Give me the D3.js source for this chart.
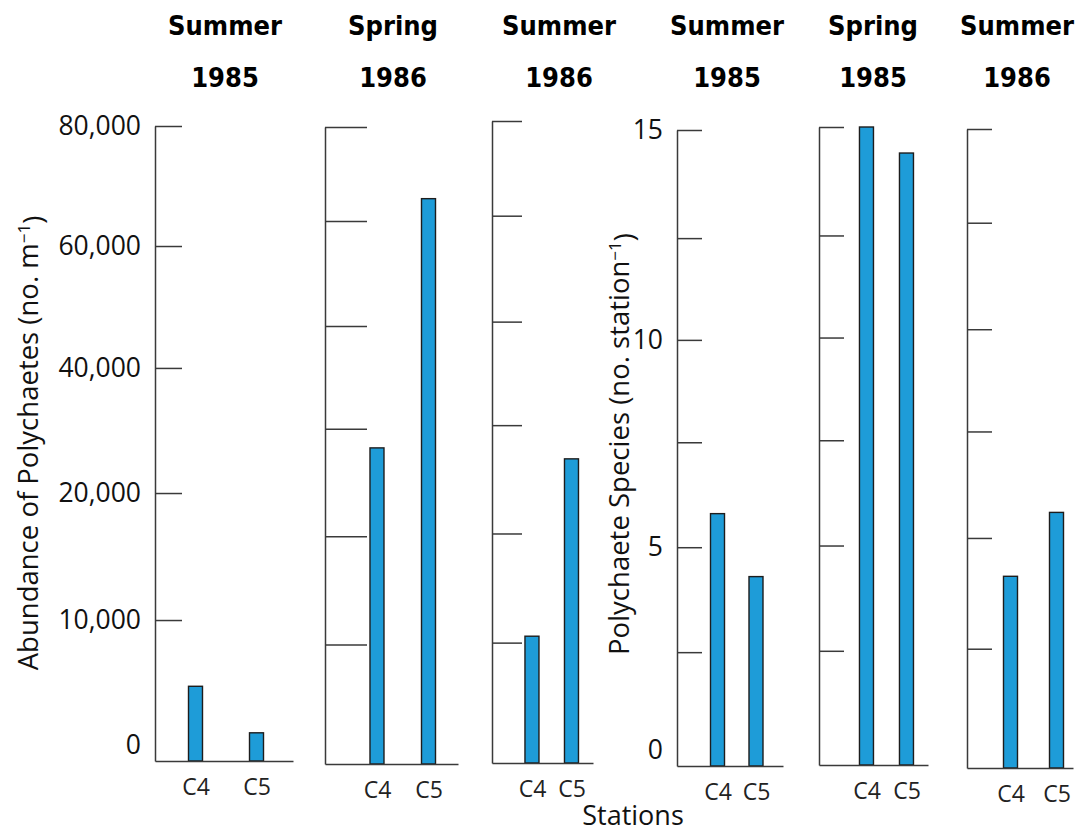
<!DOCTYPE html>
<html>
<head>
<meta charset="utf-8">
<script src="https://cdn.jsdelivr.net/npm/d3@7"></script>
<style>
  body { margin: 0; background: #fff; }
  svg { display: block; }
</style>
</head>
<body>
<div id="chart"></div>
<script>
// stations on every panel
const stations = ['C4', 'C5']

// panel headers
const seasons = ['Summer', 'Spring', 'Summer', 'Summer', 'Spring', 'Summer']
const years = ['1985', '1986', '1986', '1985', '1985', '1986']

// abundance of polychaetes (no. m-1), panels 1-3
const abundSummer85 = [5300, 2000]
const abundSpring86 = [39700, 71000]
const abundSummer86 = [15800, 37900]

// polychaete species (no. station-1), panels 4-6
const speciesSummer85 = [5.8, 4.3]
const speciesSpring85 = [15.0, 14.4]
const speciesSummer86 = [4.5, 6.0]

// axis breaks as drawn (the labelled axes are not evenly spaced)
const abundBreaks = [0, 10000, 20000, 40000, 60000, 80000]
const abundBreakPos = [0, 0.222, 0.422, 0.619, 0.811, 1]
const speciesBreaks = [0, 2.5, 5, 7.5, 10, 12.5, 15]
const speciesBreakPos = [0, 0.179, 0.344, 0.509, 0.670, 0.830, 1]

// tick marks
const abundTicks = [10000, 20000, 40000, 60000, 80000]
const abundTickLabels = [0, 10000, 20000, 40000, 60000, 80000]
const abundPlainTicks = [15000, 28600, 42100, 55000, 68200, 80000]
const speciesTicks = [2.5, 5, 7.5, 10, 12.5, 15]
const speciesTickLabels = [0, 5, 10, 15]
const speciesPlainTicks = [2.8, 5.4, 7.9, 10.3, 12.8, 15]

const width = 1077
const height = 832
const barColor = '#1e9cd8'
const axisColor = '#3a3a3a'

const panels = [
  { values: abundSummer85, breaks: abundBreaks, pos: abundBreakPos, ticks: abundTicks, labels: abundTickLabels,
    x: 155, end: 293, base: 761, top: 126, tick: 27, pad: 0.631, align: 0.526, titleX: 225 },
  { values: abundSpring86, breaks: [0, 80000], pos: [0, 1], ticks: abundPlainTicks,
    x: 325, end: 458, base: 764, top: 127, tick: 42, pad: 0.791, align: 0.638, titleX: 393 },
  { values: abundSummer86, breaks: [0, 80000], pos: [0, 1], ticks: abundPlainTicks,
    x: 492, end: 593, base: 763, top: 121, tick: 30, pad: 0.778, align: 0.65, titleX: 559 },
  { values: speciesSummer85, breaks: speciesBreaks, pos: speciesBreakPos, ticks: speciesTicks, labels: speciesTickLabels,
    x: 677, end: 783, base: 766, top: 130, tick: 25, pad: 0.877, align: 0.6, titleX: 727 },
  { values: speciesSpring85, breaks: speciesBreaks, pos: speciesBreakPos, ticks: speciesTicks,
    x: 819, end: 928, base: 765, top: 127, tick: 25, pad: 0.8625, align: 0.688, titleX: 873 },
  { values: speciesSummer86, breaks: [0, 15], pos: [0, 1], ticks: speciesPlainTicks,
    x: 967, end: 1073, base: 768, top: 129, tick: 25, pad: 0.652, align: 0.725, titleX: 1017 }
]

const svg = d3
  .select('#chart')
  .append('svg')
  .attr('width', width)
  .attr('height', height)

panels.forEach((p, i) => {
  const y = d3
    .scaleLinear()
    .domain(p.breaks)
    .range(p.pos.map((f) => p.base - f * (p.base - p.top)))

  const x = d3
    .scalePoint()
    .domain(stations)
    .range([p.x, p.end])
    .padding(p.pad)
    .align(p.align)

  const g = svg.append('g').attr('class', 'panel')

  // vertical axis with tick marks pointing into the plot
  g.append('g')
    .attr('transform', `translate(${p.x}, 0)`)
    .call(
      d3
        .axisRight(y)
        .tickValues(p.ticks)
        .tickSize(p.tick)
        .tickSizeOuter(0)
        .tickFormat('')
    )
    .call((g) => g.selectAll('path, line').attr('stroke', axisColor).attr('stroke-width', 1.5))

  if (p.labels) {
    g.selectAll('.tick-label')
      .data(p.labels)
      .join('text')
      .attr('class', 'tick-label')
      .attr('x', p.x - 14)
      .attr('y', (d) => y(d))
      .attr('dy', (d) => (d === 0 ? '-0.25em' : '0.35em'))
      .attr('text-anchor', 'end')
      .style('font-family', 'Open Sans')
      .style('font-size', '26.5px')
      .style('fill', '#111')
      .text((d) => (d >= 1000 ? d3.format(',')(d) : d))
  }

  // bars
  g.selectAll('.bar')
    .data(p.values)
    .join('rect')
    .attr('class', 'bar')
    .attr('x', (d, j) => x(stations[j]) - 7)
    .attr('width', 14)
    .attr('y', (d) => y(d))
    .attr('height', (d) => y(0) - y(d))
    .attr('fill', barColor)
    .attr('stroke', '#1d1d1d')
    .attr('stroke-width', 1.4)

  // baseline + station labels
  g.append('g')
    .attr('transform', `translate(0, ${p.base})`)
    .call(d3.axisBottom(x).tickSize(0).tickSizeOuter(0).tickPadding(18))
    .call((g) => g.select('.domain').attr('stroke', axisColor).attr('stroke-width', 1.5))
    .call((g) =>
      g.selectAll('.tick>text')
        .style('font-family', 'Open Sans')
        .style('font-size', '23px')
        .style('fill', '#222')
    )

  // header
  const title = g.append('g')
    .style('font-family', "'Liberation Sans Narrow', 'DejaVu Sans Condensed', sans-serif")
    .style('font-weight', 'bold')
    .style('font-size', '27px')
    .attr('text-anchor', 'middle')
    .style('fill', '#000')
  title.append('text').attr('x', p.titleX).attr('y', 35).text(seasons[i])
  title.append('text').attr('x', p.titleX).attr('y', 87).text(years[i])
})

// axis titles
const yTitle = (cx, cy, main) => {
  const t = svg
    .append('text')
    .attr('transform', `translate(${cx}, ${cy}) rotate(-90)`)
    .attr('text-anchor', 'middle')
    .style('font-family', 'Open Sans')
    .style('font-size', '27.5px')
    .style('fill', '#111')
  t.append('tspan').text(main)
  t.append('tspan').attr('dy', '-0.45em').style('font-size', '17px').text('\u22121')
  t.append('tspan').attr('dy', '0.45em').text(')')
}
yTitle(38, 443, 'Abundance of Polychaetes (no. m')
yTitle(629, 444, 'Polychaete Species (no. station')

svg.append('text')
  .attr('x', 633)
  .attr('y', 825)
  .attr('text-anchor', 'middle')
  .style('font-family', 'Open Sans')
  .style('font-size', '27px')
  .style('fill', '#111')
  .text('Stations')
</script>
</body>
</html>
